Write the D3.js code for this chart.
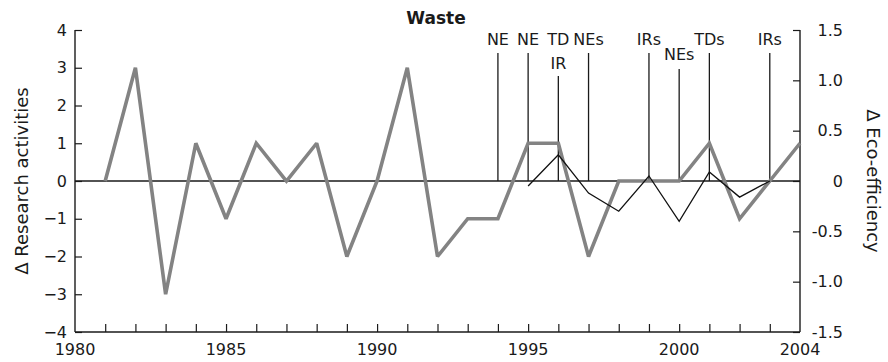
<!DOCTYPE html>
<html>
<head>
<meta charset="utf-8">
<script src="https://cdn.jsdelivr.net/npm/d3@7"></script>
<style>
  html, body { margin: 0; padding: 0; background: #fff; }
  svg text { font-family: "DejaVu Sans", "Open Sans", sans-serif; fill: #1a1a1a; }
</style>
</head>
<body>
<svg id="chart" width="888" height="362"></svg>
<script>
// Yearly change in research activities (left axis)
const researchYears = [1981, 1982, 1983, 1984, 1985, 1986, 1987, 1988, 1989, 1990, 1991, 1992,
                       1993, 1994, 1995, 1996, 1997, 1998, 1999, 2000, 2001, 2002, 2003, 2004];
const researchValues = [0, 3, -3, 1, -1, 1, 0, 1, -2, 0, 3, -2,
                        -1, -1, 1, 1, -2, 0, 0, 0, 1, -1, 0, 1];

// Yearly change in eco-efficiency (right axis)
const ecoYears = [1995, 1996, 1997, 1998, 1999, 2000, 2001, 2002, 2003];
const ecoValues = [-0.05, 0.26, -0.12, -0.3, 0.05, -0.4, 0.09, -0.16, 0];

// Policy events marked with vertical lines
const eventYears = [1994, 1995, 1996, 1997, 1999, 2000, 2001, 2003];
const eventTop = ["NE", "NE", "TD", "NEs", "IRs", "", "TDs", "IRs"];
const eventLower = ["", "", "IR", "", "", "NEs", "", ""];

const leftTicks = [-4, -3, -2, -1, 0, 1, 2, 3, 4];
const rightTicks = [-1.5, -1.0, -0.5, 0, 0.5, 1.0, 1.5];
const rightTickLabels = ["-1.5", "-1.0", "-0.5", "0", "0.5", "1.0", "1.5"];
const yearLabels = [1980, 1985, 1990, 1995, 2000, 2004];

const svg = d3.select("#chart");
const m = { left: 75, right: 800, top: 30, bottom: 332 };

const x = d3.scaleLinear().domain([1980, 2004]).range([m.left, m.right]);
const yL = d3.scaleLinear().domain([-4, 4]).range([m.bottom, m.top]);
const yR = d3.scaleLinear().domain([-1.5, 1.5]).range([m.bottom, m.top]);

const fs = 16;
const axisColor = "#1a1a1a";

// Title
svg.append("text").attr("x", 436).attr("y", 24)
  .attr("text-anchor", "middle").attr("font-weight", "bold").attr("font-size", 17)
  .text("Waste");

// Left axis (ticks point inward)
const leftAxis = d3.axisLeft(yL).tickValues(leftTicks).tickSize(-7).tickPadding(15)
  .tickFormat(d3.format("d"));
const gL = svg.append("g").attr("transform", `translate(${m.left},0)`).call(leftAxis);

// Right axis
const rightAxis = d3.axisRight(yR).tickValues(rightTicks).tickSize(-7).tickPadding(15)
  .tickFormat((d, i) => rightTickLabels[i]);
const gR = svg.append("g").attr("transform", `translate(${m.right},0)`).call(rightAxis);

// Bottom axis: a tick every year, labels at selected years
const yearTicks = d3.range(1981, 2004);
const bottomAxis = d3.axisBottom(x).tickValues(yearTicks).tickSize(-8).tickFormat("");
const gB = svg.append("g").attr("transform", `translate(0,${m.bottom})`).call(bottomAxis);
gB.selectAll(".year-label").data(yearLabels).enter().append("text")
  .attr("class", "year-label")
  .attr("x", d => x(d)).attr("y", 23)
  .attr("text-anchor", "middle").attr("font-size", fs)
  .style("fill", "#1a1a1a")
  .text(d => d);

[gL, gR, gB].forEach(g => {
  g.select(".domain").attr("stroke", axisColor).attr("stroke-width", 1.4);
  g.selectAll(".tick line").attr("stroke", axisColor).attr("stroke-width", 1.2);
  g.selectAll(".tick text").attr("font-size", fs).style("fill", "#1a1a1a")
    .attr("font-family", "\"DejaVu Sans\", \"Open Sans\", sans-serif");
});
gL.selectAll(".tick text").attr("x", -8);
gR.selectAll(".tick text").attr("text-anchor", "end").attr("x", 43);
// Close the frame
gL.select(".domain").attr("d", `M0,${m.top}H0V${m.bottom}`);
gR.select(".domain").attr("d", `M0,${m.top}H0V${m.bottom}`);
gB.select(".domain").attr("d", `M${m.left},0H${m.right}`);

// Zero line
svg.append("line").attr("x1", m.left).attr("x2", m.right)
  .attr("y1", yL(0)).attr("y2", yL(0))
  .attr("stroke", axisColor).attr("stroke-width", 1.4);

// Event lines and labels
const rowTop = 45, rowLow = 69;
eventYears.forEach((yr, i) => {
  const hasTop = eventTop[i] !== "";
  const lineTop = hasTop ? (eventLower[i] ? 76 : 53) : 69;
  svg.append("line").attr("x1", x(yr)).attr("x2", x(yr))
    .attr("y1", yL(0)).attr("y2", lineTop)
    .attr("stroke", axisColor).attr("stroke-width", 1.3);
  if (hasTop) {
    svg.append("text").attr("x", x(yr)).attr("y", rowTop)
      .attr("text-anchor", "middle").attr("font-size", fs).text(eventTop[i]);
  }
  if (eventLower[i]) {
    const yy = hasTop ? rowLow : 60;
    svg.append("text").attr("x", x(yr)).attr("y", yy)
      .attr("text-anchor", "middle").attr("font-size", fs).text(eventLower[i]);
  }
});

// Research activities line
const lineL = d3.line().x((d, i) => x(researchYears[i])).y(d => yL(d));
svg.append("path").datum(researchValues).attr("d", lineL)
  .attr("fill", "none").attr("stroke", "#838383").attr("stroke-width", 3.6)
  .attr("stroke-linejoin", "miter").attr("stroke-miterlimit", 2);

// Eco-efficiency line
const lineR = d3.line().x((d, i) => x(ecoYears[i])).y(d => yR(d));
svg.append("path").datum(ecoValues).attr("d", lineR)
  .attr("fill", "none").attr("stroke", "#111").attr("stroke-width", 1.3);

// Axis titles
svg.append("text").attr("transform", `translate(28,${(m.top + m.bottom) / 2}) rotate(-90)`)
  .attr("text-anchor", "middle").attr("font-size", 18).text("Δ Research activities");
svg.append("text").attr("transform", `translate(867,${(m.top + m.bottom) / 2}) rotate(90)`)
  .attr("text-anchor", "middle").attr("font-size", 18).text("Δ Eco-efficiency");
</script>
</body>
</html>
